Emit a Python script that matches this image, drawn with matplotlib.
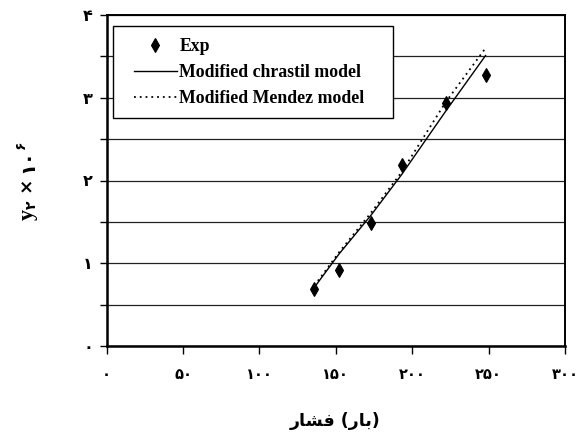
import matplotlib
matplotlib.use("Agg")
import matplotlib.pyplot as plt
from matplotlib.patches import Rectangle

# Pressure (bar) and mole fraction data
pressure = [136, 152, 173, 193, 222, 248]
y_exp = [0.69, 0.92, 1.49, 2.19, 2.94, 3.27]
y_chrastil = [0.71, 1.11, 1.58, 2.07, 2.84, 3.51]
y_mendez = [0.73, 1.13, 1.61, 2.10, 2.95, 3.60]

legend_labels = ["Exp", "Modified chrastil model", "Modified Mendez model"]

fa_digits = "۰۱۲۳۴۵۶۷۸۹"


def to_fa(n):
    return "".join(fa_digits[int(c)] for c in str(n))


x_ticks = [0, 50, 100, 150, 200, 250, 300]
y_ticks = [0, 0.5, 1, 1.5, 2, 2.5, 3, 3.5, 4]
x_tick_labels = [to_fa(v) for v in x_ticks]
y_tick_labels = [to_fa(int(v)) if float(v).is_integer() else "" for v in y_ticks]

# "فشار (بار)" in visual order using presentation forms
x_label = "\uFEAD\uFE8E\uFEB8\uFED3 (\uFEAD\uFE8E\uFE91)"

W, H = 584, 438
fig = plt.figure(figsize=(W / 100, H / 100), dpi=100)
ax_l, ax_r, ax_t, ax_b = 106.7, 565.0, 15.0, 346.0
ax = fig.add_axes([ax_l / W, (H - ax_b) / H, (ax_r - ax_l) / W, (ax_b - ax_t) / H])

ax.plot(pressure, y_chrastil, color="black", lw=1.0, label=legend_labels[1])
ax.plot(pressure, y_mendez, color="black", lw=1.3, linestyle=(0, (1, 2.2)),
        label=legend_labels[2])
ax.plot(pressure, y_exp, linestyle="none", marker="d", ms=7, color="black",
        mec="black", mew=0.8, label=legend_labels[0])

ax.set_xlim(0, 300)
ax.set_ylim(0, 4)
ax.set_xticks(x_ticks)
ax.set_xticklabels(x_tick_labels)
ax.set_yticks(y_ticks)
ax.set_yticklabels(y_tick_labels)

for lab in ax.get_xticklabels() + ax.get_yticklabels():
    lab.set_fontfamily(["DejaVu Sans"])
    lab.set_fontweight("bold")
    lab.set_fontsize(10.5)
for lab in ax.get_yticklabels():
    lab.set_fontsize(11.5)

ax.tick_params(axis="x", direction="out", length=6, width=1.0, pad=9)
ax.tick_params(axis="y", direction="out", length=5, width=1.0, pad=5)

ax.grid(axis="y", color="#222222", lw=0.9)
ax.set_axisbelow(True)
for side in ["left", "bottom"]:
    ax.spines[side].set_linewidth(1.8)
for side in ["top", "right"]:
    ax.spines[side].set_linewidth(1.4)


def px_to_axes(px, py):
    return (px - ax_l) / (ax_r - ax_l), (ax_b - py) / (ax_b - ax_t)


# Legend frame
bx0, by0 = px_to_axes(113, 118)
bx1, by1 = px_to_axes(393, 26)
ax.add_patch(Rectangle((bx0, by0), bx1 - bx0, by1 - by0, transform=ax.transAxes,
                       facecolor="white", edgecolor="black", lw=1.0, zorder=4))

handles, labels = ax.get_legend_handles_labels()
order = [2, 0, 1]
lx, ly = px_to_axes(134, 38)
leg = ax.legend([handles[i] for i in order], [labels[i] for i in order],
                loc="upper left", bbox_to_anchor=(lx, ly),
                prop=dict(family="Liberation Serif", weight="bold", size=12.8),
                frameon=False, borderpad=0, labelspacing=0.52,
                handlelength=2.4, handletextpad=0.15, borderaxespad=0)
leg.set_zorder(5)

fig.text(0.5745, 0.039, x_label, ha="center", va="center",
         family=["DejaVu Sans"], weight="bold", size=12.5)

# Rotated y-axis label assembled piece by piece: y₂ × 10⁶
renderer = fig.canvas.get_renderer()
pieces = [
    ("y", ["Liberation Serif"], 16, 0),
    ("۲", ["DejaVu Sans"], 10, 3),
    (" × ", ["DejaVu Sans"], 13, 0),
    ("۱۰", ["DejaVu Sans"], 14, 0),
    ("۶", ["DejaVu Sans"], 10, -8),
]
base_x = 33
texts = []
for s, fam, size, dx in pieces:
    t = fig.text(0, 0, s, family=fam, weight="bold", size=size,
                 rotation=90, rotation_mode="anchor", ha="left", va="baseline",
                 transform=None)
    texts.append((t, dx))
lengths = [t.get_window_extent(renderer).height for t, _ in texts]
total = sum(lengths)
y0 = (H - 180) - total / 2
for (t, dx), L in zip(texts, lengths):
    t.set_position((base_x + dx, y0))
    y0 += L

fig.savefig("out.png", dpi=100)
